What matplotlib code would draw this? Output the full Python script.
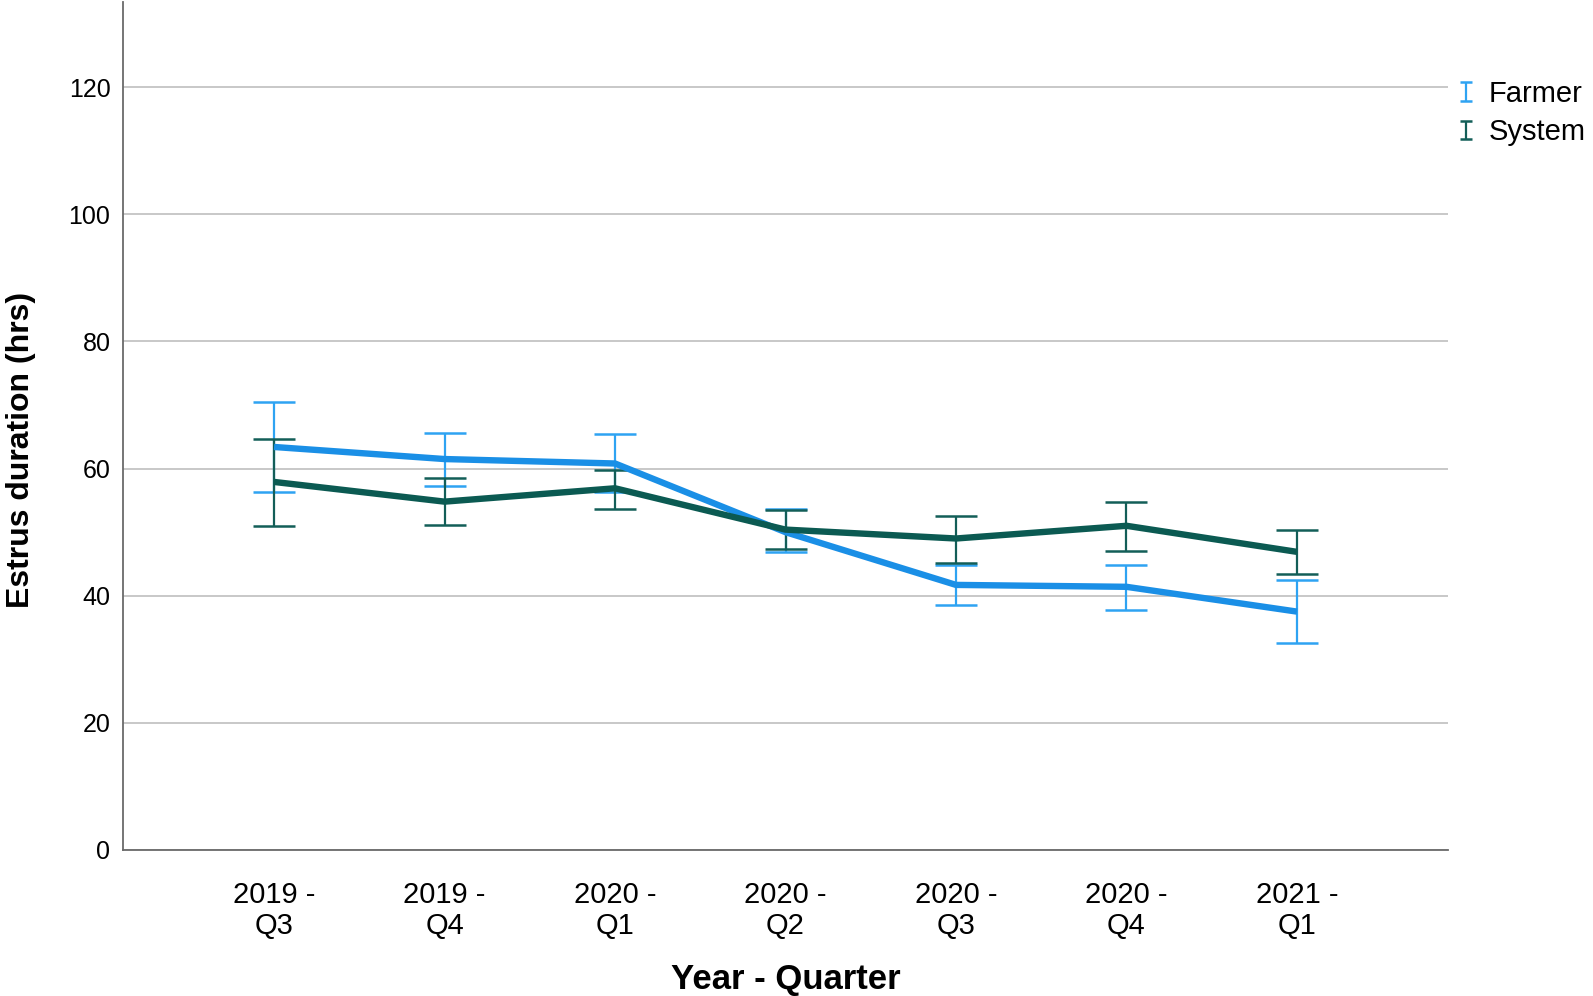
import matplotlib
matplotlib.use('Agg')
import matplotlib.pyplot as plt
from matplotlib.lines import Line2D
from matplotlib.container import ErrorbarContainer
from matplotlib.legend_handler import HandlerErrorbar

plt.rcParams['font.family'] = ['Liberation Sans', 'DejaVu Sans']

quarters = ['2019 -\nQ3', '2019 -\nQ4', '2020 -\nQ1', '2020 -\nQ2',
            '2020 -\nQ3', '2020 -\nQ4', '2021 -\nQ1']

farmer_mean = [63.4, 61.5, 60.8, 50.0, 41.7, 41.4, 37.5]
farmer_low = [56.3, 57.3, 56.3, 46.9, 38.5, 37.8, 32.6]
farmer_high = [70.5, 65.6, 65.4, 53.7, 44.9, 44.8, 42.5]

system_mean = [57.9, 54.8, 56.9, 50.4, 49.0, 51.0, 46.9]
system_low = [51.0, 51.1, 53.7, 47.4, 45.2, 47.1, 43.4]
system_high = [64.6, 58.5, 59.8, 53.5, 52.5, 54.7, 50.3]

farmer_line = '#1a8fe6'
farmer_err = '#2ea3f2'
system_line = '#0b5a52'
system_err = '#135e58'

fig = plt.figure(figsize=(15.93, 9.96), dpi=100)
ax = fig.add_axes([0.0772, 0.1466, 0.8318, 0.8514])

x = list(range(len(quarters)))

for mean, low, high, lc, ec, name in [
        (farmer_mean, farmer_low, farmer_high, farmer_line, farmer_err, 'Farmer'),
        (system_mean, system_low, system_high, system_line, system_err, 'System')]:
    yerr = [[m - l for m, l in zip(mean, low)], [h - m for m, h in zip(mean, high)]]
    ax.errorbar(x, mean, yerr=yerr, fmt='none', ecolor=ec, elinewidth=1.6,
                capsize=15, capthick=1.8, label=name, zorder=3)
    ax.plot(x, mean, color=lc, lw=4.6, zorder=4, solid_capstyle='butt')

ax.set_xlim(-0.886, 6.886)
ax.set_ylim(0, 133.4)
ax.set_yticks([0, 20, 40, 60, 80, 100, 120])
ax.set_xticks(x)
ax.set_xticklabels(quarters, fontsize=21, linespacing=1.15)
ax.tick_params(axis='y', labelsize=18, length=0, pad=9)
ax.tick_params(axis='x', length=0, pad=22)

ax.yaxis.grid(True, color='#c4c4c4', lw=1.3)
ax.set_axisbelow(True)
for s in ['top', 'right']:
    ax.spines[s].set_visible(False)
for s in ['left', 'bottom']:
    ax.spines[s].set_color('#6a6a6a')
    ax.spines[s].set_linewidth(1.3)

ax.set_xlabel('Year - Quarter', fontsize=25, fontweight='bold')
ax.xaxis.set_label_coords(0.5, -0.133)
ax.set_ylabel('Estrus duration (hrs)', fontsize=23, fontweight='bold')
ax.yaxis.set_label_coords(-0.066, 0.472)

leg = fig.legend(loc='upper left', bbox_to_anchor=(0.898, 0.946), frameon=False,
                 fontsize=21, handlelength=0.6, handletextpad=0.5, labelspacing=0.35,
                 handler_map={ErrorbarContainer: HandlerErrorbar(yerr_size=0.32)})
for ln in leg.findobj(Line2D):
    if ln.get_marker() == '_':
        ln.set_markersize(9)

fig.savefig('out.png', dpi=100)
